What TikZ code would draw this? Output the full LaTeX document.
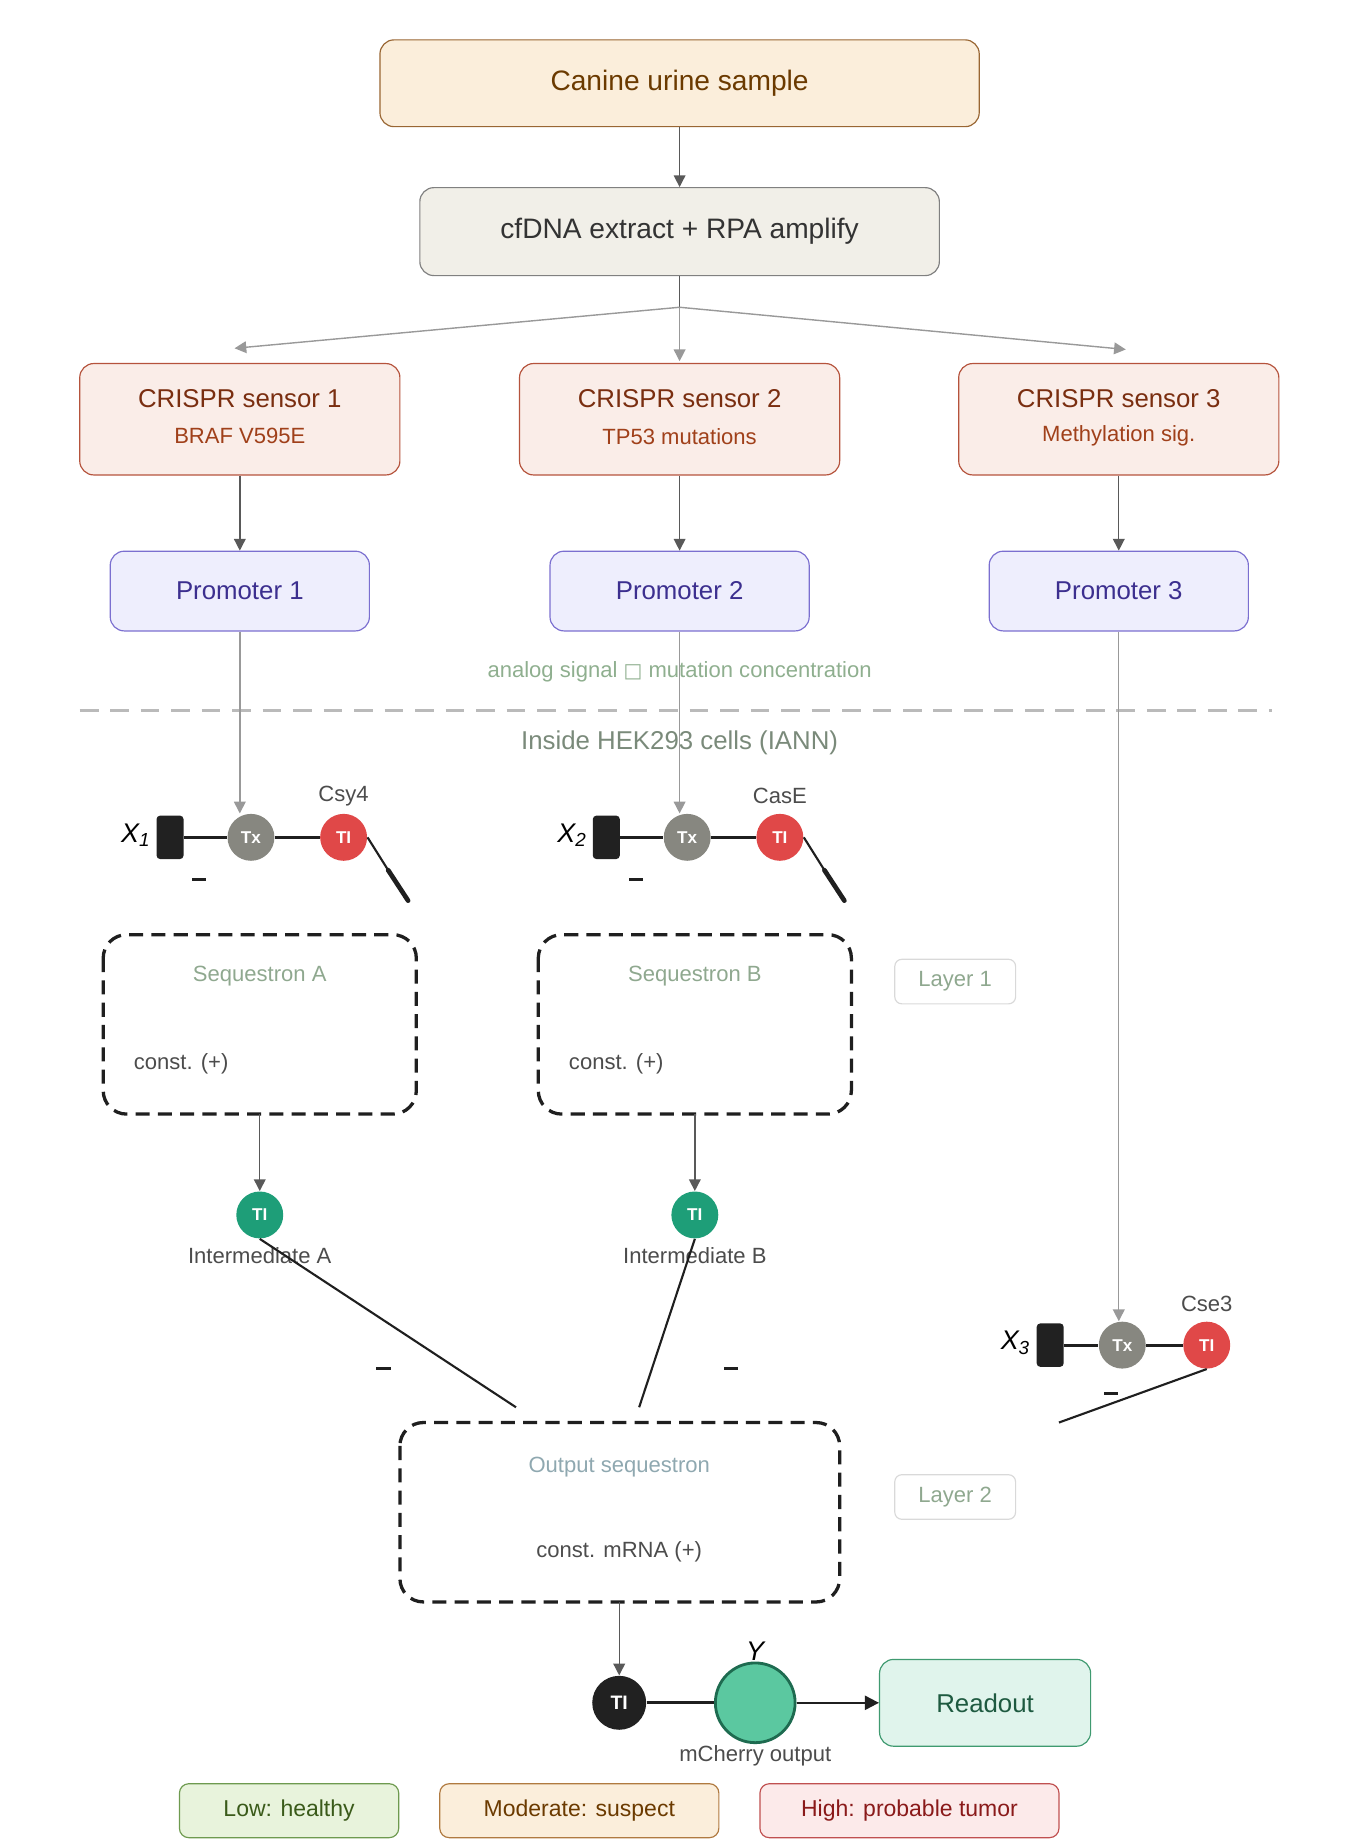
\documentclass[tikz,border=0pt]{standalone}
\usepackage{fontspec}
\setmainfont{Liberation Sans}
\newfontfamily\dejavu{DejaVu Sans}
\usetikzlibrary{arrows.meta}
\begin{document}
\begin{tikzpicture}[x=0.5pt,y=-0.5pt,
 box/.style={draw,rounded corners=6pt,line width=0.5pt,inner sep=0pt},
 arr/.style={-{Triangle[length=5pt,width=5pt]},draw=black!65,line width=0.6pt},
 garr/.style={-{Triangle[length=5pt,width=5pt]},draw=black!28,color=black!40,line width=0.6pt},
 seq/.style={draw=black!88,line width=1.4pt,dash pattern=on 6pt off 3.5pt,rounded corners=10pt},
 tx/.style={circle,minimum size=20pt,inner sep=0pt,text=white,font=\fontsize{7.3}{8}\selectfont\bfseries},
 ti/.style={circle,minimum size=20pt,inner sep=0pt,text=white,font=\fontsize{7.3}{8}\selectfont\bfseries},
 blk/.style={fill=black!87,rounded corners=1.5pt,minimum width=11.5pt,minimum height=18.5pt,inner sep=0pt},
 wire/.style={draw=black!88,line width=1.3pt},
 lbl/.style={font=\fontsize{9.4}{10}\selectfont,text=black!70},
 mn/.style={fill=black!88,minimum width=6pt,minimum height=1.3pt,inner sep=0pt},
]
\definecolor{tiG}{HTML}{1E9E78}
\definecolor{txg}{HTML}{878780}
\definecolor{tir}{HTML}{E04848}
\tikzset{tx/.append style={fill=txg},ti/.append style={fill=tir}}
\useasboundingbox (0,0) rectangle (1160,1569);
% top boxes
\node[box,draw=brown!80!black,fill={rgb,255:red,251;green,238;blue,219},minimum width=255.5pt,minimum height=37pt,text={rgb,255:red,107;green,58;blue,0},font=\fontsize{12}{13}\selectfont] (s) at (579.5,71) {Canine urine sample};
\node[box,draw=black!50,fill={rgb,255:red,241;green,239;blue,232},minimum width=221.5pt,minimum height=37.5pt,text=black!80,font=\fontsize{12}{13}\selectfont] (c) at (579.5,197.5) {cfDNA extract + RPA amplify};
\draw[arr] (s) -- (c);
\coordinate (br) at (579.5,262);
\draw[draw=black!65,line width=0.6pt] (c.south) -- (br);
% sensors
\foreach \i/\x/\sub in {1/204.5/BRAF V595E,2/579.5/TP53 mutations,3/954/Methylation sig.}{
 \node[box,draw={rgb,255:red,181;green,83;blue,60},fill={rgb,255:red,250;green,237;blue,232},minimum width=136.5pt,minimum height=47.5pt] (cs\i) at (\x,357.5) {};
 \node[font=\fontsize{11}{12}\selectfont,text={rgb,255:red,122;green,46;blue,16}] (cst\i) at (\x,340) {CRISPR sensor \i};
 \node[font=\fontsize{9.4}{10}\selectfont,text={rgb,255:red,160;green,64;blue,26}] (css\i) at (\x,372) {\sub};
 \node[box,draw={rgb,255:red,123;green,111;blue,208},fill={rgb,255:red,238;green,238;blue,253},minimum width=110.5pt,minimum height=34pt,text={rgb,255:red,60;green,47;blue,143},font=\fontsize{11}{12}\selectfont] (p\i) at (\x,504) {Promoter \i};
 \draw[arr] (cs\i) -- (p\i);
}
\coordinate (t1) at (200,297); \coordinate (t2) at (579.5,308); \coordinate (t3) at (960,298);
\draw[garr] (br) -- (t1); \draw[garr] (br) -- (t2); \draw[garr] (br) -- (t3);
\node[font=\fontsize{9.4}{10}\selectfont,text={rgb,255:red,143;green,175;blue,143}] (an) at (579.5,573) {analog signal {\dejavu\fontsize{8.5}{9}\selectfont □} mutation concentration};
\coordinate (d1) at (68,606); \coordinate (d2) at (1085,606);
\draw[draw=black!27,line width=1.5pt,dash pattern=on 8pt off 5pt] (d1) -- (d2);
\node[font=\fontsize{11}{12}\selectfont,text={rgb,255:red,122;green,138;blue,122}] (hek) at (579.5,633) {Inside HEK293 cells (IANN)};
% gates 1,2
\foreach \g/\o/\en in {1/0/Csy4,2/372/CasE}{
 \node[blk] (b\g) at (145+\o,714) {};
 \node[font=\fontsize{11.5}{12}\selectfont\itshape] (xl\g) at (116+\o,712) {X\textsubscript{\g}};
 \node[tx] (tx\g) at (214+\o,714) {Tx};
 \node[ti] (ti\g) at (293+\o,714) {TI};
 \node[lbl] (en\g) at (293+\o,679) {\en};
 \node[mn] (m\g) at (170+\o,750) {};
 \draw[wire] (b\g) -- (tx\g); \draw[wire] (tx\g) -- (ti\g);
 \coordinate (e\g) at (348+\o,768); \coordinate (k\g) at (331+\o,742);
 \draw[draw=black!88,line width=0.9pt] (ti\g.east) -- (k\g);
 \draw[draw=black!88,line width=2pt,line cap=round] (k\g) -- (e\g);
}
\draw[garr] (p1.south) -- (p1.south |- tx1.north);
\draw[garr] (p2.south) -- (p2.south |- tx2.north);
% sequestrons
\foreach \n/\x/\L in {A/221.5/sA,B/592.5/sB}{
 \draw[seq] (\x-133.5,797) rectangle (\x+133.5,950);
 \node[lbl,text={rgb,255:red,143;green,168;blue,143}] (t\L) at (\x,832) {Sequestron \n};
 \node[lbl] (k\L) at (\x-67,907) {const. (+)};
 \coordinate (\L b) at (\x,950);
 \node[circle,fill=tiG,minimum size=20pt,inner sep=0pt,text=white,font=\fontsize{7.3}{8}\selectfont\bfseries] (i\n) at (\x,1036) {TI};
 \node[lbl] (il\n) at (\x,1071) {Intermediate \n};
 \draw[arr] (\L b) -- (i\n);
}
\node[box,draw=black!15,rounded corners=3pt,minimum width=51.5pt,minimum height=19pt,lbl,text={rgb,255:red,143;green,168;blue,143}] (ly1) at (814.5,837) {Layer 1};
% gate 3
\node[blk] (b3) at (895.5,1147) {};
\node[font=\fontsize{11.5}{12}\selectfont\itshape] (xl3) at (866,1145) {X\textsubscript{3}};
\node[tx] (tx3) at (957,1147) {Tx};
\node[ti] (ti3) at (1029,1147) {TI};
\node[lbl] (en3) at (1029,1112) {Cse3};
\node[mn] (m3) at (947,1188) {};
\draw[wire] (b3) -- (tx3); \draw[wire] (tx3) -- (ti3);
\draw[garr] (p3.south) -- (p3.south |- tx3.north);
\coordinate (e3) at (903,1213);
\draw[draw=black!88,line width=0.9pt] (ti3.south) -- (e3);
% output
\draw[seq] (341,1213) rectangle (716,1366);
\node[lbl,text={rgb,255:red,143;green,168;blue,176}] (to) at (528,1251) {Output sequestron};
\node[lbl] (ko) at (528,1323) {const. mRNA (+)};
\coordinate (ea) at (440,1200); \coordinate (eb) at (545,1200);
\draw[draw=black!88,line width=0.9pt] (iA.south) -- (ea);
\draw[draw=black!88,line width=0.9pt] (iB.south) -- (eb);
\node[mn] (mA) at (327,1167) {};
\node[mn] (mB) at (623,1167) {};
\node[box,draw=black!15,rounded corners=3pt,minimum width=51.5pt,minimum height=19pt,lbl,text={rgb,255:red,143;green,168;blue,143}] (ly2) at (814.5,1276.5) {Layer 2};
\coordinate (ob) at (528,1366);
\node[circle,fill=black!87,minimum size=23pt,inner sep=0pt,text=white,font=\fontsize{8.3}{9}\selectfont\bfseries] (tio) at (528,1452) {TI};
\draw[arr] (ob) -- (tio);
\node[circle,draw={rgb,255:red,30;green,107;blue,80},line width=1.2pt,fill={rgb,255:red,91;green,200;blue,160},minimum size=34pt,inner sep=0pt] (y) at (644,1452) {};
\draw[wire] (tio) -- (y);
\node[font=\fontsize{11.5}{12}\selectfont\itshape] (yl) at (644,1408) {Y};
\node[lbl] (mc) at (644,1497) {mCherry output};
\node[box,draw={rgb,255:red,63;green,154;blue,112},fill={rgb,255:red,224;green,244;blue,236},minimum width=90pt,minimum height=37pt,text={rgb,255:red,30;green,90;blue,64},font=\fontsize{11}{12}\selectfont] (ro) at (840,1452) {Readout};
\draw[-{Triangle[length=6pt,width=6pt]},draw=black!88,line width=0.9pt] (y) -- (ro);
% legend
\node[box,rounded corners=4pt,draw={rgb,255:red,110;green,154;blue,79},fill={rgb,255:red,232;green,243;blue,220},minimum width=93.5pt,minimum height=23pt,text={rgb,255:red,58;green,90;blue,26},font=\fontsize{9.8}{11}\selectfont] (l1) at (246.5,1544) {Low: healthy};
\node[box,rounded corners=4pt,draw={rgb,255:red,176;green,122;blue,64},fill={rgb,255:red,251;green,238;blue,219},minimum width=119pt,minimum height=23pt,text={rgb,255:red,107;green,58;blue,0},font=\fontsize{9.8}{11}\selectfont] (l2) at (494,1544) {Moderate: suspect};
\node[box,rounded corners=4pt,draw={rgb,255:red,192;green,80;blue,80},fill={rgb,255:red,252;green,234;blue,234},minimum width=127.5pt,minimum height=23pt,text={rgb,255:red,138;green,26;blue,26},font=\fontsize{9.8}{11}\selectfont] (l3) at (775.5,1544) {High: probable tumor};
\end{tikzpicture}
\end{document}
